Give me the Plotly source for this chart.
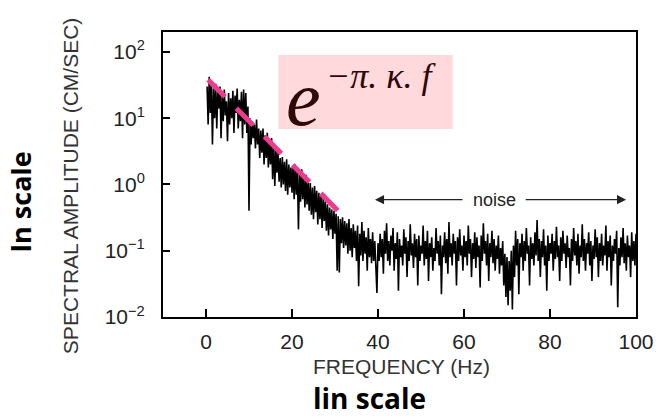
import numpy as np
import plotly.graph_objects as go

# Frequency bins (Hz): 0.25 Hz spacing
freq_step = 0.25
# Spectral amplitude (cm/sec), in 20 Hz blocks
amp_0_20 = [30, 8, 42, 12, 35, 4, 28, 10, 33, 7, 25, 14, 30, 5, 22, 9, 27, 11, 18, 4.5,
            24, 8, 20, 10, 26, 6, 22, 12, 28, 7, 19, 9, 25, 5, 27, 8, 24, 6, 15, 0.4,
            10, 4, 9, 5, 8, 3.5, 9.5, 4, 7, 2.5, 6.5, 3, 7, 2, 5.5, 2.5, 6, 1.8, 4.5, 2,
            5, 1.2, 4, 0.95, 3.5, 1.5, 3, 1.1, 2.5, 0.9, 2.6, 1.0, 2.2, 0.8, 2.4, 0.7, 2, 0.9, 1.8, 0.75]
amp_20_40 = [1.9, 0.6, 2.0, 0.7, 1.6, 0.21, 1.5, 0.55, 1.7, 0.6, 1.3, 0.45, 1.4, 0.5, 1.1, 0.4, 1.05, 0.35, 0.9, 0.3,
             0.95, 0.38, 0.8, 0.25, 0.75, 0.3, 0.7, 0.22, 0.65, 0.28, 0.55, 0.2, 0.5, 0.17, 0.45, 0.21, 0.42, 0.15, 0.4, 0.18,
             0.36, 0.05, 0.33, 0.047, 0.3, 0.13, 0.32, 0.11, 0.28, 0.12, 0.26, 0.09, 0.3, 0.1, 0.22, 0.08, 0.25, 0.11, 0.2, 0.07,
             0.24, 0.029, 0.18, 0.085, 0.27, 0.07, 0.2, 0.09, 0.16, 0.05, 0.22, 0.08, 0.15, 0.065, 0.19, 0.07, 0.14, 0.06, 0.023, 0.13]
amp_40_60 = [0.07, 0.18, 0.08, 0.15, 0.045, 0.2, 0.09, 0.26, 0.07, 0.14, 0.06, 0.17, 0.1, 0.22, 0.05, 0.13, 0.075, 0.19, 0.025, 0.15,
             0.08, 0.12, 0.06, 0.21, 0.09, 0.16, 0.04, 0.14, 0.07, 0.25, 0.085, 0.13, 0.055, 0.18, 0.08, 0.15, 0.03, 0.17, 0.07, 0.12,
             0.09, 0.24, 0.06, 0.14, 0.075, 0.2, 0.035, 0.13, 0.08, 0.16, 0.05, 0.11, 0.07, 0.22, 0.09, 0.14, 0.06, 0.17, 0.022, 0.12,
             0.08, 0.19, 0.065, 0.15, 0.045, 0.27, 0.08, 0.13, 0.06, 0.18, 0.09, 0.14, 0.03, 0.16, 0.07, 0.21, 0.085, 0.12, 0.05, 0.17]
amp_60_80 = [0.08, 0.14, 0.06, 0.24, 0.09, 0.15, 0.04, 0.13, 0.075, 0.19, 0.055, 0.16, 0.08, 0.12, 0.028, 0.17, 0.07, 0.26, 0.09, 0.14,
             0.06, 0.18, 0.035, 0.13, 0.08, 0.2, 0.065, 0.15, 0.05, 0.12, 0.075, 0.17, 0.045, 0.11, 0.06, 0.14, 0.03, 0.09, 0.02, 0.08,
             0.015, 0.07, 0.025, 0.1, 0.013, 0.12, 0.04, 0.2, 0.06, 0.15, 0.022, 0.13, 0.08, 0.18, 0.05, 0.14, 0.07, 0.22, 0.09, 0.12,
             0.03, 0.16, 0.075, 0.13, 0.06, 0.19, 0.085, 0.29, 0.07, 0.15, 0.04, 0.14, 0.08, 0.21, 0.06, 0.12, 0.025, 0.17, 0.07, 0.13]
amp_80_100 = [0.09, 0.18, 0.05, 0.14, 0.075, 0.23, 0.08, 0.12, 0.035, 0.16, 0.07, 0.2, 0.09, 0.13, 0.055, 0.17, 0.08, 0.11, 0.03, 0.15,
              0.07, 0.22, 0.085, 0.14, 0.06, 0.18, 0.045, 0.12, 0.08, 0.25, 0.07, 0.15, 0.05, 0.13, 0.09, 0.19, 0.06, 0.14, 0.035, 0.12,
              0.075, 0.21, 0.08, 0.16, 0.04, 0.13, 0.07, 0.18, 0.06, 0.12, 0.085, 0.24, 0.05, 0.14, 0.08, 0.17, 0.03, 0.12, 0.07, 0.15,
              0.09, 0.2, 0.014, 0.11, 0.06, 0.16, 0.08, 0.22, 0.065, 0.13, 0.05, 0.17, 0.08, 0.12, 0.04, 0.19, 0.07, 0.14, 0.06, 0.18]

# Fitted exponential decay (dashed line) endpoints
fit_freq = [0.5, 31.8]
fit_amp = [38, 0.34]

# Noise band annotation
noise_left, noise_right, noise_level = 39.3, 97.7, 0.59
noise_text_left, noise_text_right = 60.0, 74.0

x_ticks = [0, 20, 40, 60, 80, 100]
y_ticks = [0.01, 0.1, 1, 10, 100]
y_ticktext = ["10<sup>\u22122</sup>", "10<sup>\u22121</sup>", "10<sup>0</sup>", "10<sup>1</sup>", "10<sup>2</sup>"]

amp = amp_0_20 + amp_20_40 + amp_40_60 + amp_60_80 + amp_80_100
freq = freq_step * np.arange(1, len(amp) + 1)

fig = go.Figure()
fig.add_trace(go.Scatter(x=freq, y=amp, mode="lines",
                         line=dict(color="black", width=1.6), showlegend=False))
fig.add_trace(go.Scatter(x=fit_freq, y=fit_amp, mode="lines",
                         line=dict(color="#F03A8C", width=5, dash="24px,16px"), showlegend=False))

tickfont = dict(family="Liberation Sans, Arial, sans-serif", size=21, color="#222")
fig.update_xaxes(range=[-10, 100], tickvals=x_ticks, ticks="inside", ticklen=8, tickwidth=1.5,
                 tickcolor="black", showline=True, linewidth=2, linecolor="black", mirror=True,
                 showgrid=False, zeroline=False, tickfont=tickfont, ticklabelstandoff=5)
fig.update_yaxes(type="log", range=[-2, 2.3], tickvals=y_ticks, ticktext=y_ticktext,
                 ticks="inside", ticklen=7, tickwidth=1.5, tickcolor="black", showline=True,
                 linewidth=2, linecolor="black", mirror=True, showgrid=False, zeroline=False,
                 tickfont=tickfont, ticklabelstandoff=12)

lab = dict(family="Liberation Sans, Arial, sans-serif", color="#333")
bold = dict(family="Open Sans, sans-serif", color="black", weight="bold")
ly = np.log10(noise_level)
C = dict(xanchor="center", yanchor="middle")
annotations = [
    dict(x=-0.194, y=0.46, xref="paper", yref="paper", text="SPECTRAL AMPLITUDE (CM/SEC)",
         textangle=-90, showarrow=False, font=dict(size=21, **lab), **C),
    dict(x=0.505, y=-0.172, xref="paper", yref="paper", text="FREQUENCY (Hz)",
         showarrow=False, font=dict(size=21, **lab), **C),
    dict(x=0.4375, y=-0.283, xref="paper", yref="paper", text="lin scale",
         showarrow=False, font=dict(size=28, **bold), **C),
    dict(x=-0.302, y=0.4035, xref="paper", yref="paper", text="ln scale", textangle=-90,
         showarrow=False, font=dict(size=27, **bold), **C),
    dict(x=0.296, y=0.765, xref="paper", yref="paper", text="<i>e</i>", showarrow=False,
         font=dict(family="Liberation Serif, serif", size=78, color="#300808"), **C),
    dict(x=0.4625, y=0.846, xref="paper", yref="paper", text="<i>\u2212\u03c0. \u03ba. f</i>",
         showarrow=False, font=dict(family="Liberation Serif, serif", size=36, color="#300808"), **C),
    dict(x=(noise_text_left + noise_text_right) / 2, y=ly, xref="x", yref="y", text="noise",
         showarrow=False, font=dict(family="Liberation Sans, Arial, sans-serif", size=18, color="#222"), **C),
    dict(x=noise_left, y=ly, ax=noise_text_left, ay=ly, xref="x", yref="y", axref="x", ayref="y",
         text="", showarrow=True, arrowhead=2, arrowsize=1.3, arrowwidth=1.4, arrowcolor="#222"),
    dict(x=noise_right, y=ly, ax=noise_text_right, ay=ly, xref="x", yref="y", axref="x", ayref="y",
         text="", showarrow=True, arrowhead=2, arrowsize=1.3, arrowwidth=1.4, arrowcolor="#222"),
]

fig.update_layout(
    width=666, height=416, margin=dict(l=163, r=21, t=32, b=99),
    paper_bgcolor="white", plot_bgcolor="white", showlegend=False,
    annotations=annotations,
    shapes=[dict(type="rect", xref="paper", yref="paper", x0=0.244, x1=0.6125, y0=0.66, y1=0.919,
                 fillcolor="#FFD9DB", line=dict(width=0), layer="below")],
)
fig.write_html("out.html")
